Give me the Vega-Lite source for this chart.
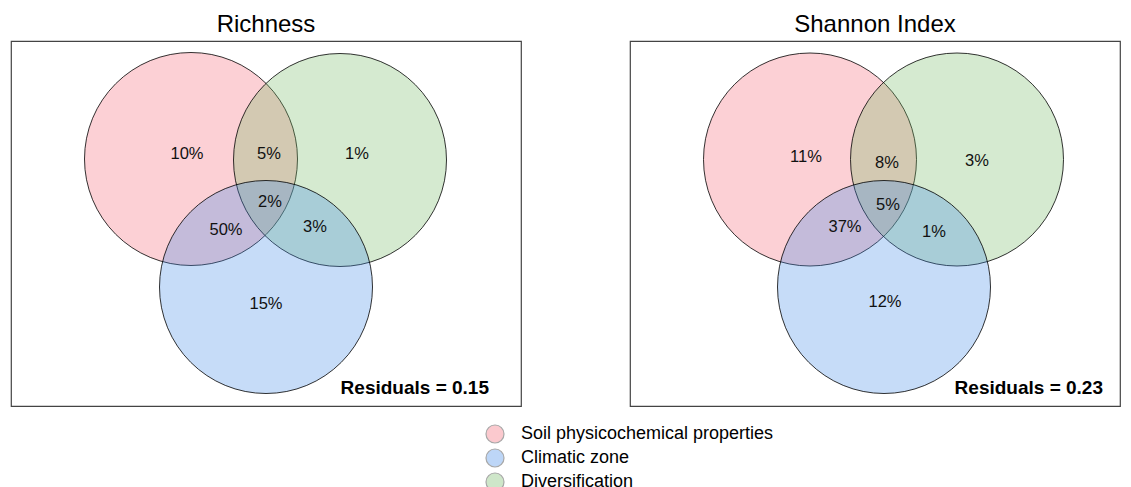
{
  "$schema": "https://vega.github.io/schema/vega-lite/v6.json",
  "background": "white",
  "padding": {"left": 10, "top": 12, "right": 5, "bottom": 0},
  "datasets": {
    "circles": [
      {"panel": "Richness", "set": "Soil physicochemical properties", "x": -0.75, "y": 0.645},
      {"panel": "Richness", "set": "Diversification", "x": 0.74, "y": 0.635},
      {"panel": "Richness", "set": "Climatic zone", "x": 0.0, "y": -0.635},
      {"panel": "Shannon Index", "set": "Soil physicochemical properties", "x": -0.65, "y": 0.64},
      {"panel": "Shannon Index", "set": "Diversification", "x": 0.82, "y": 0.64},
      {"panel": "Shannon Index", "set": "Climatic zone", "x": 0.09, "y": -0.635}
    ],
    "regions": [
      {"panel": "Richness", "label": "10%", "x": -0.79, "y": 0.695},
      {"panel": "Richness", "label": "5%", "x": 0.03, "y": 0.695},
      {"panel": "Richness", "label": "1%", "x": 0.91, "y": 0.695},
      {"panel": "Richness", "label": "2%", "x": 0.04, "y": 0.215},
      {"panel": "Richness", "label": "50%", "x": -0.40, "y": -0.065},
      {"panel": "Richness", "label": "3%", "x": 0.49, "y": -0.035},
      {"panel": "Richness", "label": "15%", "x": 0.0, "y": -0.805},
      {"panel": "Shannon Index", "label": "11%", "x": -0.69, "y": 0.665},
      {"panel": "Shannon Index", "label": "8%", "x": 0.12, "y": 0.605},
      {"panel": "Shannon Index", "label": "3%", "x": 1.02, "y": 0.625},
      {"panel": "Shannon Index", "label": "5%", "x": 0.13, "y": 0.185},
      {"panel": "Shannon Index", "label": "37%", "x": -0.30, "y": -0.035},
      {"panel": "Shannon Index", "label": "1%", "x": 0.59, "y": -0.085},
      {"panel": "Shannon Index", "label": "12%", "x": 0.10, "y": -0.785}
    ],
    "fit": [
      {"panel": "Richness", "label": "Residuals = 0.15", "x": 2.23, "y": -1.645},
      {"panel": "Shannon Index", "label": "Residuals = 0.23", "x": 2.28, "y": -1.645}
    ]
  },
  "hconcat": [
    {
      "title": "Richness",
      "width": 510,
      "height": 365,
      "layer": [
        {
          "data": {"name": "circles"},
          "transform": [{"filter": "datum.panel === 'Richness'"}],
          "mark": {"type": "point", "shape": "circle", "filled": true, "size": 45369, "opacity": 1, "fillOpacity": 0.3, "stroke": "black", "strokeWidth": 0.8, "strokeOpacity": 1},
          "encoding": {
            "x": {"field": "x", "type": "quantitative", "scale": {"domain": [-2.55, 2.55], "nice": false, "zero": false}, "axis": null},
            "y": {"field": "y", "type": "quantitative", "scale": {"domain": [-1.825, 1.825], "nice": false, "zero": false}, "axis": null},
            "fill": {
              "field": "set", "type": "nominal",
              "scale": {"domain": ["Soil physicochemical properties", "Climatic zone", "Diversification"], "range": ["#F56273", "#418AE8", "#73B962"]},
              "legend": {
                "orient": "none", "legendX": 474, "legendY": 383, "title": null,
                "symbolType": "circle", "symbolSize": 324, "labelFontSize": 18, "labelFont": "Liberation Sans", "labelColor": "black",
                "labelOffset": 16, "rowPadding": 0, "labelLimit": 500,
                "symbolStrokeColor": "black", "symbolStrokeWidth": 1.2, "symbolOpacity": 0.34
              }
            }
          }
        },
        {
          "data": {"name": "regions"},
          "transform": [{"filter": "datum.panel === 'Richness'"}],
          "mark": {"type": "text", "fontSize": 16.5, "font": "Liberation Sans", "color": "#111", "align": "center", "baseline": "middle"},
          "encoding": {
            "x": {"field": "x", "type": "quantitative"},
            "y": {"field": "y", "type": "quantitative"},
            "text": {"field": "label"}
          }
        },
        {
          "data": {"name": "fit"},
          "transform": [{"filter": "datum.panel === 'Richness'"}],
          "mark": {"type": "text", "fontSize": 19, "fontWeight": "bold", "font": "Liberation Sans", "color": "black", "align": "right", "baseline": "middle"},
          "encoding": {
            "x": {"field": "x", "type": "quantitative"},
            "y": {"field": "y", "type": "quantitative"},
            "text": {"field": "label"}
          }
        }
      ]
    },
    {
      "title": "Shannon Index",
      "width": 490,
      "height": 365,
      "layer": [
        {
          "data": {"name": "circles"},
          "transform": [{"filter": "datum.panel === 'Shannon Index'"}],
          "mark": {"type": "point", "shape": "circle", "filled": true, "size": 45369, "opacity": 1, "fillOpacity": 0.3, "stroke": "black", "strokeWidth": 0.8, "strokeOpacity": 1},
          "encoding": {
            "x": {"field": "x", "type": "quantitative", "scale": {"domain": [-2.45, 2.45], "nice": false, "zero": false}, "axis": null},
            "y": {"field": "y", "type": "quantitative", "scale": {"domain": [-1.825, 1.825], "nice": false, "zero": false}, "axis": null},
            "fill": {
              "field": "set", "type": "nominal",
              "scale": {"domain": ["Soil physicochemical properties", "Climatic zone", "Diversification"], "range": ["#F56273", "#418AE8", "#73B962"]},
              "legend": {
                "orient": "none", "legendX": 474, "legendY": 383, "title": null,
                "symbolType": "circle", "symbolSize": 324, "labelFontSize": 18, "labelFont": "Liberation Sans", "labelColor": "black",
                "labelOffset": 16, "rowPadding": 0, "labelLimit": 500,
                "symbolStrokeColor": "black", "symbolStrokeWidth": 1.2, "symbolOpacity": 0.34
              }
            }
          }
        },
        {
          "data": {"name": "regions"},
          "transform": [{"filter": "datum.panel === 'Shannon Index'"}],
          "mark": {"type": "text", "fontSize": 16.5, "font": "Liberation Sans", "color": "#111", "align": "center", "baseline": "middle"},
          "encoding": {
            "x": {"field": "x", "type": "quantitative"},
            "y": {"field": "y", "type": "quantitative"},
            "text": {"field": "label"}
          }
        },
        {
          "data": {"name": "fit"},
          "transform": [{"filter": "datum.panel === 'Shannon Index'"}],
          "mark": {"type": "text", "fontSize": 19, "fontWeight": "bold", "font": "Liberation Sans", "color": "black", "align": "right", "baseline": "middle"},
          "encoding": {
            "x": {"field": "x", "type": "quantitative"},
            "y": {"field": "y", "type": "quantitative"},
            "text": {"field": "label"}
          }
        }
      ]
    }
  ],
  "spacing": 107,
  "resolve": {"scale": {"fill": "shared", "x": "independent", "y": "independent"}, "legend": {"fill": "shared"}},
  "config": {
    "view": {"stroke": "#444", "strokeWidth": 1.2},
    "title": {"font": "Liberation Sans", "fontSize": 24, "fontWeight": "normal", "color": "black", "anchor": "middle", "baseline": "alphabetic", "offset": 4}
  }
}
